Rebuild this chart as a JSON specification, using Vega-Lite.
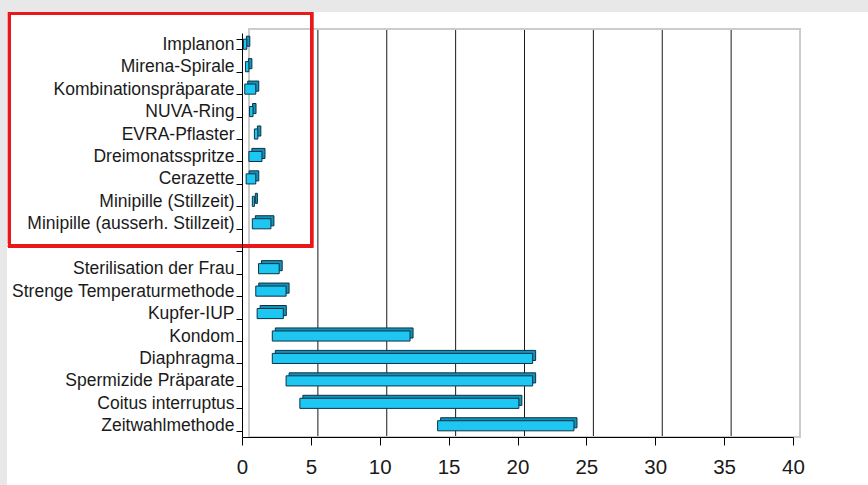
{
  "$schema": "https://vega.github.io/schema/vega-lite/v6.json",
  "width": 551,
  "height": 404,
  "autosize": "none",
  "padding": {"left": 242, "top": 33, "right": 75, "bottom": 48},
  "background": "#e8e8e8",
  "config": {"view": {"stroke": null}, "font": "Liberation Sans"},
  "data": {"values": [
    {"m": "Implanon", "lo": 0.1, "hi": 0.35},
    {"m": "Mirena-Spirale", "lo": 0.25, "hi": 0.5},
    {"m": "Kombinationspräparate", "lo": 0.2, "hi": 1.0},
    {"m": "NUVA-Ring", "lo": 0.55, "hi": 0.8},
    {"m": "EVRA-Pflaster", "lo": 0.9, "hi": 1.15},
    {"m": "Dreimonatsspritze", "lo": 0.5, "hi": 1.45},
    {"m": "Cerazette", "lo": 0.3, "hi": 1.0},
    {"m": "Minipille (Stillzeit)", "lo": 0.75, "hi": 0.9},
    {"m": "Minipille (ausserh. Stillzeit)", "lo": 0.75, "hi": 2.1},
    {"m": "Sterilisation der Frau", "lo": 1.2, "hi": 2.7},
    {"m": "Strenge Temperaturmethode", "lo": 1.0, "hi": 3.2},
    {"m": "Kupfer-IUP", "lo": 1.1, "hi": 3.0},
    {"m": "Kondom", "lo": 2.2, "hi": 12.2},
    {"m": "Diaphragma", "lo": 2.2, "hi": 21.1},
    {"m": "Spermizide Präparate", "lo": 3.2, "hi": 21.1},
    {"m": "Coitus interruptus", "lo": 4.2, "hi": 20.1},
    {"m": "Zeitwahlmethode", "lo": 14.2, "hi": 24.1}
  ]},
  "layer": [
    {
      "mark": {"type": "rect", "fill": "white", "clip": false, "yOffset": -32.2, "y2Offset": 100},
      "encoding": {
        "x": {"datum": -17.06, "type": "quantitative"},
        "x2": {"datum": 50},
        "y": {"datum": "Implanon", "type": "nominal"},
        "y2": {"datum": "Zeitwahlmethode"}
      }
    },
    {
      "data": {"values": [{"g": 5}, {"g": 10}, {"g": 15}, {"g": 20}, {"g": 25}, {"g": 30}, {"g": 35}, {"g": 40}]},
      "mark": {"type": "rule", "color": "#1a1a1a", "strokeWidth": 1, "xOffset": 7, "yOffset": -4},
      "encoding": {"x": {"field": "g", "type": "quantitative"}}
    },
    {
      "mark": {"type": "rect", "fill": null, "stroke": "#cccccc", "strokeWidth": 1.5, "xOffset": 7, "x2Offset": 7, "yOffset": -4, "y2Offset": -4},
      "encoding": {
        "x": {"datum": 0, "type": "quantitative"},
        "x2": {"datum": 40}
      }
    },
    {
      "mark": {"type": "bar", "fill": "#1591b9", "stroke": "#0a3446", "strokeWidth": 1, "xOffset": 3, "x2Offset": 3, "yOffset": -3},
      "encoding": {
        "y": {"field": "m", "type": "nominal"},
        "x": {"field": "lo", "type": "quantitative"},
        "x2": {"field": "hi"}
      }
    },
    {
      "mark": {"type": "bar", "fill": "#1ec6f2", "stroke": "#0a3446", "strokeWidth": 1},
      "encoding": {
        "y": {
          "field": "m", "type": "nominal", "sort": null,
          "scale": {"domain": ["Implanon", "Mirena-Spirale", "Kombinationspräparate", "NUVA-Ring", "EVRA-Pflaster", "Dreimonatsspritze", "Cerazette", "Minipille (Stillzeit)", "Minipille (ausserh. Stillzeit)", " ", "Sterilisation der Frau", "Strenge Temperaturmethode", "Kupfer-IUP", "Kondom", "Diaphragma", "Spermizide Präparate", "Coitus interruptus", "Zeitwahlmethode"], "paddingInner": 0.55, "paddingOuter": 0.275},
          "axis": {"title": null, "zindex": 1, "domainColor": "#000", "tickColor": "#000", "tickBand": "extent", "tickSize": 6, "labelFontSize": 17.5, "labelColor": "#1a1a1a", "labelPadding": 2, "labelLimit": 300}
        },
        "x": {
          "field": "lo", "type": "quantitative",
          "scale": {"domain": [0, 40], "nice": false, "zero": false},
          "axis": {"title": null, "zindex": 1, "values": [0, 5, 10, 15, 20, 25, 30, 35, 40], "grid": false, "domainColor": "#000", "tickColor": "#000", "tickSize": 8, "labelFontSize": 20.5, "labelColor": "#1a1a1a", "labelPadding": 12, "labelFlush": false}
        },
        "x2": {"field": "hi"}
      }
    },
    {
      "mark": {"type": "rect", "fill": null, "stroke": "#e8191b", "strokeWidth": 3, "clip": false, "yOffset": -30.7, "y2Offset": 22.1},
      "encoding": {
        "x": {"datum": -16.88, "type": "quantitative"},
        "x2": {"datum": 5.05},
        "y": {"datum": "Implanon", "type": "nominal"},
        "y2": {"datum": "Minipille (ausserh. Stillzeit)"}
      }
    }
  ]
}
